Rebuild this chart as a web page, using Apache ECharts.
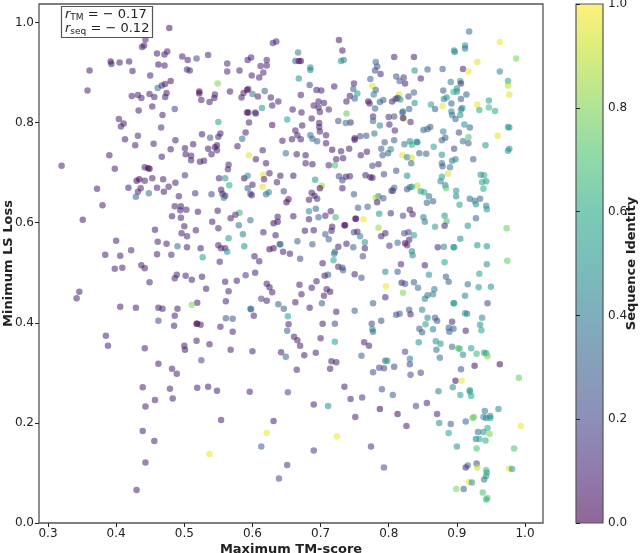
<!DOCTYPE html>
<html>
<head>
<meta charset="utf-8">
<style>html,body{margin:0;padding:0;background:#fff}#c{width:640px;height:553px}</style>
<script src="https://cdn.jsdelivr.net/npm/echarts@6/dist/echarts.min.js"></script>
</head>
<body>
<div id="c"></div>
<script>
// Each entry: [maximum TM-score, minimum LS loss, sequence identity]
const lowScoreHighLoss = [
[.478,.989,.05],[.443,.966,.08],[.441,.954,.08],[.438,.951,.08],[.460,.938,.08],[.471,.936,.08],[.475,.942,.08],[.497,.932,.08],[.505,.925,.08],[.518,.928,.2],[.535,.935,.1],
[.392,.922,.03],[.393,.917,.08],[.405,.920,.08],[.419,.922,.08],[.462,.916,.05],[.471,.914,.08],[.361,.904,.08],[.424,.903,.08],[.504,.906,.15],[.508,.904,.1],[.563,.918,.1],[.563,.902,.1],[.581,.904,.08],[.593,.925,.08],[.598,.930,.08],[.612,.913,.1],[.621,.925,.1],[.621,.914,.08],[.616,.900,.1],[.599,.894,.1],[.610,.890,.08],[.630,.959,.12],[.635,.962,.1],
[.450,.894,.08],[.461,.869,.35],[.467,.874,.1],[.472,.877,.08],[.480,.883,.05],[.358,.864,.08],[.549,.878,.8],[.474,.859,.08],[.423,.853,.08],[.432,.855,.08],[.437,.849,.08],[.449,.857,.08],[.456,.851,.08],[.472,.851,.08],[.522,.862,.02],[.522,.858,.02],[.545,.856,.08],[.544,.849,.08],[.525,.845,.08],[.537,.841,.08],[.567,.862,.08],[.584,.850,.08],[.587,.859,.08],[.594,.867,.1],[.592,.865,.02],[.600,.857,.4],[.608,.852,.08],[.618,.863,.3],[.627,.850,.08],[.638,.842,.08],
[.433,.824,.08],[.453,.832,.08],[.486,.827,.2],[.468,.815,.08],[.614,.829,.5],[.629,.834,.1],[.592,.820,.02],[.594,.820,.02],[.604,.820,.25],[.605,.818,.08],[.404,.807,.08],[.411,.798,.08],[.407,.792,.08],[.550,.801,.55],[.595,.800,.1],[.629,.795,.05],[.466,.790,.12],[.526,.777,.08],[.553,.778,.08],[.550,.772,.1],[.538,.770,.25],[.590,.780,.08],[.585,.768,.35],[.432,.774,.12],[.413,.767,.08],[.487,.765,.08],[.428,.755,.08],[.455,.758,.08],[.513,.757,.08],[.501,.749,.08],[.480,.747,.08],[.535,.748,.08],[.545,.751,.03],[.548,.755,.08],[.548,.745,.1],[.540,.737,.08],[.578,.753,.08],[.615,.745,.1],[.502,.737,.08],[.510,.734,.08],[.467,.732,.08],[.510,.725,.08],[.390,.735,.08],[.595,.735,.95],[.605,.727,.08],[.620,.719,.08],
[.320,.714,.08],[.398,.708,.08],[.442,.711,.08],[.447,.709,.02],[.449,.708,.02],[.523,.722,.08],[.529,.724,.08],[.565,.716,.1],[.564,.707,.08],[.430,.684,.03],[.434,.687,.02],[.442,.684,.08],[.453,.689,.08],[.469,.687,.08],[.487,.680,.08],[.501,.695,.15],[.551,.689,.08],[.560,.689,.5],[.566,.675,.6],[.588,.689,.03],[.593,.694,.45],[.616,.696,.95],[.617,.687,.08],[.625,.699,.08],[.636,.681,.1],[.600,.676,.08],[.615,.672,.95],[.593,.669,.3],
[.372,.668,.08],[.418,.670,.08],[.436,.669,.08],[.432,.662,.12],[.429,.652,.3],[.448,.659,.35],[.460,.670,.08],[.470,.662,.08],[.477,.672,.08],[.492,.653,.08],[.516,.659,.15],[.540,.657,.2],[.554,.666,.08],[.556,.658,.08],[.560,.654,.1],[.558,.650,.4],[.597,.658,.2],[.599,.655,.1],[.620,.657,.3],[.624,.661,.45],[.380,.635,.08],[.486,.633,.08],[.495,.633,.08],[.494,.625,.08],[.503,.626,.08],[.520,.622,.08],[.549,.624,.08],[.581,.620,.65],[.575,.616,.1],[.568,.609,.08],[.351,.606,.08],[.482,.613,.08],[.495,.610,.08],[.541,.602,.08],[.597,.605,.35],[.631,.599,.03],[.637,.602,.02],[.637,.612,.1],
[.500,.593,.08],[.580,.595,.35],[.550,.589,.08],[.457,.586,.08],[.517,.585,.08],[.496,.579,.08],[.504,.573,.08],[.586,.577,.4],[.616,.581,.1],[.634,.575,.08],[.565,.569,.5],[.400,.564,.08],[.461,.562,.08],[.474,.558,.08],[.490,.553,.35],[.504,.551,.08],[.524,.549,.08],[.588,.553,.5],[.550,.555,.08],[.554,.549,.08],[.560,.549,.08],[.563,.542,.5],[.422,.545,.1],[.384,.536,.08],[.406,.534,.08],[.460,.537,.08],[.481,.536,.12],[.527,.531,.55],[.552,.522,.1],[.603,.533,.08],[.610,.523,.08],[.625,.547,.03],[.631,.549,.03],[.640,.557,.4],[.398,.508,.08],[.409,.510,.08],[.437,.515,.08],[.442,.509,.08]
];
const highScoreHighLoss = [
[.918,.982,.35],[.963,.961,.97],[.727,.965,.05],[.732,.944,.08],[.667,.940,.4],[.896,.944,.5],[.897,.941,.45],[.912,.954,.5],[.912,.948,.35],[.663,.923,.3],[.668,.923,.05],[.671,.923,.02],[.685,.910,.45],[.685,.905,.45],[.730,.923,.5],[.734,.925,.45],[.808,.931,.08],[.837,.931,.08],[.930,.921,.95],[.987,.928,.8],[.781,.921,.35],[.783,.912,.25],[.780,.904,.2],[.788,.897,.1],[.838,.904,.5],[.857,.906,.3],[.879,.907,.3],[.909,.907,.08],[.917,.902,.97],[.963,.902,.45],
[.668,.888,.5],[.773,.887,.3],[.811,.892,.25],[.822,.890,.15],[.816,.883,.3],[.824,.878,.08],[.847,.888,.08],[.891,.881,.4],[.905,.883,.55],[.906,.878,.1],[.975,.883,.55],[.975,.874,.9],[.749,.878,.08],[.684,.875,.2],[.720,.872,.08],[.776,.873,.95],[.694,.865,.08],[.701,.864,.08],[.748,.867,.3],[.754,.858,.55],[.781,.865,.3],[.778,.856,.4],[.880,.864,.3],[.900,.868,.5],[.895,.861,.65],[.900,.862,.5],[.977,.856,.95],[.671,.855,.08],[.743,.853,.08],[.750,.848,.3],[.837,.860,.3],[.815,.856,.95],[.829,.852,.2],[.914,.856,.3],[.881,.847,.45],[.885,.850,.45],[.906,.847,.25],
[.697,.842,.08],[.705,.839,.08],[.738,.842,.08],[.770,.842,.02],[.772,.838,.1],[.787,.841,.3],[.792,.845,.3],[.805,.842,.08],[.810,.847,.2],[.813,.849,.1],[.817,.846,.5],[.892,.838,.3],[.947,.844,.55],[.838,.839,.5],[.690,.834,.1],[.697,.830,.08],[.862,.836,.55],[.879,.833,.97],[.930,.836,.97],[.947,.830,.65],[.659,.826,.08],[.712,.826,.12],[.780,.828,.3],[.830,.827,.3],[.868,.827,.3],[.908,.829,.45],[.906,.826,.4],[.933,.825,.6],[.956,.823,.6],[.651,.806,.55],[.672,.820,.08],[.699,.821,.1],[.738,.818,.75],[.821,.822,.45],[.820,.820,.3],[.892,.822,.45],[.893,.815,.4],[.905,.815,.5],[.800,.811,.12],[.808,.812,.2],[.777,.812,.1],[.687,.808,.08],[.822,.808,.85],[.821,.809,.05],[.777,.803,.3],[.898,.807,.3],[.726,.803,.25],[.744,.800,.1],[.737,.799,.35],[.832,.801,.1],[.698,.799,.08],
[.673,.794,.08],[.801,.796,.1],[.787,.794,.45],[.911,.796,.5],[.919,.790,.3],[.861,.791,.3],[.851,.785,.3],[.857,.787,.3],[.975,.791,.55],[.977,.790,.5],[.698,.791,.08],[.663,.784,.08],[.699,.782,.08],[.809,.784,.1],[.880,.782,.45],[.779,.778,.4],[.903,.780,.2],[.666,.775,.08],[.708,.775,.08],[.685,.775,.35],[.960,.774,.95],[.758,.773,.2],[.767,.774,.25],[.750,.769,.05],[.750,.766,.05],[.917,.771,.7],[.883,.770,.25],[.688,.768,.35],[.658,.767,.08],[.644,.764,.08],[.671,.767,.08],[.695,.763,.3],[.708,.759,.08],[.794,.761,.3],[.808,.765,.3],[.831,.763,.45],[.841,.762,.5],[.842,.761,.4],[.878,.765,.3],[.909,.763,.35],[.917,.759,.3],[.823,.757,.35],[.834,.756,.6],[.942,.755,.5],[.866,.752,.55],[.789,.748,.3],[.896,.748,.2],[.742,.748,.08],[.717,.746,.05],[.730,.743,.08],[.803,.747,.45],[.768,.742,.08],[.977,.748,.5],[.975,.744,.5],
[.649,.739,.35],[.665,.737,.08],[.678,.735,.08],[.799,.739,.3],[.791,.735,.3],[.759,.735,.1],[.845,.739,.3],[.855,.738,.3],[.820,.735,.95],[.827,.731,.4],[.834,.730,.95],[.878,.736,.5],[.723,.727,.08],[.733,.729,.08],[.898,.727,.4],[.893,.724,.4],[.924,.727,.3],[.678,.719,.08],[.688,.717,.08],[.712,.715,.1],[.721,.715,.7],[.776,.714,.2],[.785,.717,.1],[.833,.719,.35],[.878,.719,.4],[.879,.713,.3],[.890,.711,.4],[.811,.704,.25],[.887,.698,.95],[.641,.694,.08],[.660,.694,.08],[.793,.697,.2],[.727,.693,.2],[.737,.692,.1],[.743,.693,.08],[.732,.685,.2],[.766,.695,.08],[.773,.691,.08],[.776,.690,.05],[.827,.694,.45],[.878,.692,.55],[.876,.683,.45],[.935,.696,.5],[.940,.695,.6],[.943,.683,.5],[.937,.681,.6],[.692,.686,.5],[.702,.674,.85],[.699,.669,.02],[.883,.675,.4],[.884,.669,.75],[.842,.674,.9],[.834,.672,.5],[.831,.671,.45],[.827,.667,.25],[.808,.670,.3],[.804,.664,.3],[.806,.664,.15],[.732,.669,.08],[.646,.663,.2],[.847,.663,.55],[.852,.661,.6],[.899,.664,.5],[.939,.668,.6],
[.687,.660,.08],[.691,.654,.08],[.749,.657,.3],[.785,.653,.4],[.781,.650,.85],[.792,.649,.25],[.899,.653,.45],[.859,.653,.35],[.919,.648,.35],[.934,.648,.3],[.926,.644,.4],[.695,.648,.1],[.683,.646,.08],[.653,.647,.05],[.650,.641,.02],[.783,.641,.05],[.865,.643,.3],[.856,.640,.3],[.904,.636,.55],[.928,.637,.5],[.943,.634,.45],[.944,.627,.5],[.755,.630,.3],[.769,.632,.3],[.693,.628,.3],[.683,.623,.45],[.715,.623,.08],[.831,.626,.08],[.786,.618,.5],[.803,.619,.12],[.835,.617,.1],[.851,.611,.4],[.882,.614,.5],[.660,.613,.08],[.707,.614,.1],[.697,.611,.3],[.722,.611,.65],[.821,.614,.2],[.751,.608,.1],[.752,.608,.02],[.763,.607,.97],[.683,.607,.08],[.928,.609,.3],[.853,.602,.4],[.885,.603,.7],
[.735,.595,.02],[.736,.595,.02],[.717,.592,.08],[.868,.592,.55],[.882,.594,.08],[.916,.594,.5],[.785,.590,.85],[.973,.589,.75],[.677,.584,.08],[.690,.585,.08],[.716,.584,.08],[.749,.581,.2],[.754,.582,.1],[.707,.577,.3],[.795,.579,.08],[.823,.579,.2],[.829,.581,.2],[.837,.575,.55],[.789,.573,.08],[.758,.573,.4],[.712,.567,.3],[.666,.563,.3],[.830,.566,.08],[.905,.568,.45],[.765,.561,.5],[.813,.560,.35],[.824,.559,.02],[.827,.555,.08],[.738,.558,.08],[.688,.557,.3],[.801,.554,.15],[.748,.551,.3],[.726,.552,.08],[.765,.549,.08],[.872,.551,.1],[.881,.552,.45],[.895,.551,.55],[.896,.551,.5],[.930,.555,.5],[.944,.553,.5],[.834,.543,.45],[.835,.535,.45],[.641,.557,.3],[.645,.542,.08],[.655,.538,.08],[.721,.542,.35],[.720,.538,.4],[.762,.533,.2],[.670,.528,.2],[.719,.525,.55],[.703,.519,.08],[.818,.517,.1],[.853,.515,.08],[.882,.521,.55],[.944,.517,.5],[.974,.524,.75],[.726,.512,.08],[.732,.510,.2]
];
const lowScoreLowLoss = [
[.489,.496,.08],[.486,.489,.08],[.502,.494,.08],[.511,.486,.08],[.526,.492,.08],[.449,.481,.1],[.532,.468,.08],[.560,.482,.08],[.577,.484,.08],[.590,.495,.15],[.604,.500,.08],[.621,.478,.08],[.625,.471,.08],[.629,.461,.08],[.565,.463,.08],[.613,.448,.2],[.621,.444,.1],[.638,.437,.3],[.561,.443,.08],[.519,.440,.08],[.511,.436,.8],[.346,.462,.08],[.342,.449,.08],[.406,.432,.08],[.429,.430,.08],[.462,.430,.08],[.468,.428,.08],[.490,.428,.08],[.486,.414,.08],[.597,.428,.4],[.598,.427,.3],[.602,.414,.08],[.462,.404,.2],[.561,.409,.25],[.571,.408,.25],[.485,.394,.1],[.518,.398,.02],[.519,.398,.02],[.524,.396,.08],[.553,.392,.08],[.571,.382,.08],[.385,.374,.08],[.388,.354,.08],[.442,.349,.08],[.500,.354,.08],[.501,.346,.05],[.518,.364,.08],[.537,.357,.08],[.568,.346,.08],[.600,.343,.1],[.642,.341,.08],[.525,.325,.2],[.462,.318,.08],[.482,.308,.08],[.489,.298,.08],[.439,.271,.08],[.479,.268,.1],[.519,.270,.08],[.535,.272,.08],[.548,.264,.08],[.596,.262,.1],[.457,.246,.08],[.483,.249,.08],[.443,.233,.08],[.554,.206,.08],[.631,.204,.08],[.439,.184,.08],[.456,.164,.08],[.621,.180,.97],[.613,.153,.3],[.537,.138,.97],[.443,.121,.08],[.639,.089,.2],[.430,.066,.08]
];
const highScoreLowLoss = [
[.795,.502,.45],[.813,.502,.3],[.750,.497,.08],[.760,.490,.25],[.711,.496,.3],[.706,.494,.08],[.733,.505,.3],[.859,.496,.5],[.933,.498,.55],[.884,.492,.3],[.888,.482,.3],[.837,.481,.3],[.819,.480,.08],[.824,.478,.25],[.916,.477,.35],[.796,.473,.97],[.843,.470,.35],[.867,.467,.4],[.932,.471,.5],[.950,.472,.5],[.669,.476,.08],[.694,.483,.08],[.687,.470,.08],[.709,.467,.08],[.714,.462,.05],[.821,.460,.8],[.672,.457,.08],[.705,.454,.08],[.857,.455,.35],[.865,.457,.4],[.853,.448,.4],[.912,.454,.45],[.795,.451,.08],[.777,.439,.3],[.663,.441,.08],[.702,.439,.3],[.895,.439,.55],[.896,.439,.5],[.945,.439,.2],[.684,.430,.08],[.646,.428,.3],[.750,.424,.3],[.723,.422,.08],[.830,.426,.3],[.849,.426,.45],[.816,.418,.3],[.811,.416,.2],[.832,.417,.1],[.652,.413,.55],[.912,.419,.5],[.915,.418,.4],[.937,.410,.45],[.857,.410,.45],[.868,.410,.3],[.871,.404,.2],[.789,.404,.25],[.893,.402,.1],
[.653,.397,.08],[.703,.398,.08],[.721,.398,.2],[.775,.398,.2],[.854,.397,.55],[.934,.396,.5],[.845,.388,.3],[.888,.390,.3],[.895,.388,.3],[.865,.387,.4],[.936,.385,.55],[.651,.384,.3],[.776,.387,.5],[.777,.382,.3],[.849,.381,.3],[.889,.382,.3],[.913,.384,.08],[.661,.372,.08],[.666,.365,.1],[.700,.369,.08],[.721,.362,.55],[.764,.361,.08],[.771,.354,.08],[.670,.354,.08],[.844,.361,.5],[.869,.363,.5],[.876,.358,.5],[.893,.352,.35],[.902,.349,.75],[.904,.348,.65],[.921,.349,.55],[.870,.346,.35],[.649,.332,.3],[.676,.335,.08],[.693,.340,.08],[.760,.334,.3],[.824,.342,.2],[.940,.340,.55],[.909,.336,.45],[.929,.338,.65],[.943,.339,.55],[.945,.333,.8],[.875,.330,.35],[.831,.328,.4],[.716,.323,.08],[.723,.321,.08],[.795,.324,.25],[.798,.324,.55],[.831,.317,.2],[.808,.312,.2],[.786,.310,.2],[.793,.309,.2],[.926,.314,.03],[.963,.317,.02],[.906,.307,.25],[.665,.306,.1],[.714,.308,.08],[.777,.301,.25],[.847,.300,.2],[.832,.296,.2],[.991,.290,.75],
[.898,.284,.02],[.907,.284,.97],[.894,.271,.45],[.919,.265,.5],[.919,.262,.55],[.873,.263,.4],[.790,.267,.25],[.735,.272,.08],[.652,.261,.2],[.806,.256,.3],[.905,.256,.55],[.921,.254,.6],[.744,.248,.08],[.761,.251,.15],[.690,.237,.08],[.711,.234,.5],[.856,.240,.1],[.840,.234,.2],[.941,.224,.4],[.961,.228,.45],[.787,.228,.02],[.871,.218,.1],[.813,.218,.02],[.751,.212,.08],[.939,.212,.5],[.943,.210,.4],[.949,.214,.5],[.949,.210,.5],[.923,.210,.75],[.925,.212,.75],[.913,.203,.3],[.874,.200,.5],[.891,.198,.3],[.826,.194,.08],[.994,.194,.97],[.945,.190,.6],[.931,.182,.35],[.939,.182,.5],[.948,.178,.8],[.888,.180,.55],[.724,.173,.97],[.928,.168,.4],[.933,.168,.6],[.942,.165,.6],[.900,.153,.5],[.929,.149,.7],[.984,.149,.7],[.774,.153,.15],[.690,.145,.15],[.651,.116,.15],[.793,.111,.2],[.929,.119,.2],[.916,.115,.35],[.913,.111,.1],[.930,.111,.9],[.943,.106,.7],[.944,.101,.6],[.943,.094,.55],[.977,.109,.95],[.981,.108,.5],[.940,.087,.35],[.918,.082,.97],[.922,.081,.5],[.899,.068,.8],[.910,.068,.3],[.938,.061,.7],[.945,.050,.75],[.943,.047,.6]
];

const scoreTicks = [0.3, 0.4, 0.5, 0.6, 0.7, 0.8, 0.9, 1.0];
const lossTicks = [0.0, 0.2, 0.4, 0.6, 0.8, 1.0];
const identityTicks = [0.0, 0.2, 0.4, 0.6, 0.8, 1.0];
const viridis = ['#440154','#482475','#414487','#355f8d','#2a788e','#21918c','#22a884','#44bf70','#7ad151','#bddf26','#fde725'];
const pointAlpha = 0.68;
const barAlpha = 0.6;

const rgba = (hex, a) => {
  const n = parseInt(hex.slice(1), 16);
  return `rgba(${n >> 16},${(n >> 8) & 255},${n & 255},${a})`;
};
const tick1 = v => Number(v).toFixed(1);
const ink = '#222';
const font = '"DejaVu Sans"';
const spine = '#555';

// The colour bar runs from the top of its grid (identity 1) down to the bottom (identity 0).
const barStops = viridis.map((c, i) => ({offset: 1 - i / (viridis.length - 1), color: rgba(c, barAlpha)})).reverse();
const nameStyle = {fontFamily: font, fontWeight: 'bold', fontSize: 13, color: ink};

const chart = echarts.init(document.getElementById('c'), null, {renderer: 'canvas'});
chart.setOption({
  animation: false,
  backgroundColor: '#fff',
  textStyle: {fontFamily: font},
  title: {
    left: 61, top: 6, padding: [2, 3, 2, 4],
    borderColor: spine, borderWidth: 1.2, backgroundColor: '#fff',
    text: '{i|r}{s|TM}{t| = − 0.17}\n{i|r}{s|seq}{t| = − 0.12}',
    textStyle: {
      fontWeight: 'normal',
      rich: {
        i: {fontFamily: font, fontStyle: 'italic', fontWeight: 'normal', fontSize: 13, color: ink, lineHeight: 14},
        s: {fontFamily: font, fontWeight: 'normal', fontSize: 9, color: ink, verticalAlign: 'bottom', padding: [5, 0, 0, 0], lineHeight: 14},
        t: {fontFamily: font, fontWeight: 'normal', fontSize: 13, color: ink, lineHeight: 14}
      }
    }
  },
  grid: [
    {left: 39, width: 504, top: 4, height: 519, outerBoundsMode: 'none', show: true, borderColor: spine, borderWidth: 1.3, backgroundColor: 'transparent'},
    {left: 576, width: 27, top: 4, height: 519, outerBoundsMode: 'none', show: true, borderColor: spine, borderWidth: 1.2, backgroundColor: 'transparent'}
  ],
  xAxis: [
    {
      gridIndex: 0, type: 'value', min: 0.2868, max: 1.0264,
      name: 'Maximum TM-score', nameLocation: 'middle', nameGap: 20, nameMoveOverlap: false,
      nameTextStyle: nameStyle,
      axisLine: {show: false}, splitLine: {show: false},
      axisTick: {customValues: scoreTicks, length: 4, lineStyle: {color: ink, width: 1}},
      axisLabel: {customValues: scoreTicks, formatter: tick1, fontFamily: font, fontSize: 12, color: ink, margin: 5}
    },
    {gridIndex: 1, type: 'value', min: 0, max: 1, show: false}
  ],
  yAxis: [
    {
      gridIndex: 0, type: 'value', min: 0, max: 1.037,
      name: 'Minimum LS Loss', nameLocation: 'middle', nameGap: 24, nameRotate: 90, nameMoveOverlap: false,
      nameTextStyle: nameStyle,
      axisLine: {show: false}, splitLine: {show: false},
      axisTick: {customValues: lossTicks, length: 4, lineStyle: {color: ink, width: 1}},
      axisLabel: {customValues: lossTicks, formatter: tick1, fontFamily: font, fontSize: 12, color: ink, margin: 5}
    },
    {
      gridIndex: 1, type: 'value', min: 0, max: 1, position: 'right',
      name: 'Sequence Identity', nameLocation: 'middle', nameGap: 22, nameRotate: 90, nameMoveOverlap: false,
      nameTextStyle: nameStyle,
      axisLine: {show: false}, splitLine: {show: false},
      axisTick: {customValues: identityTicks, length: 4, lineStyle: {color: ink, width: 1}},
      axisLabel: {customValues: identityTicks, formatter: tick1, fontFamily: font, fontSize: 12, color: ink, margin: 5}
    }
  ],
  visualMap: {
    type: 'continuous', show: false, min: 0, max: 1, dimension: 2, seriesIndex: 0,
    inRange: {color: viridis.map(c => rgba(c, pointAlpha))}
  },
  graphic: [{
    type: 'rect', z: -1, silent: true,
    shape: {x: 576, y: 4, width: 27, height: 519},
    style: {fill: new echarts.graphic.LinearGradient(0, 0, 0, 1, barStops)}
  }],
  series: [{
    type: 'scatter', xAxisIndex: 0, yAxisIndex: 0, symbolSize: 6.5,
    data: [...lowScoreHighLoss, ...highScoreHighLoss, ...lowScoreLowLoss, ...highScoreLowLoss]
  }]
});
</script>
</body>
</html>
